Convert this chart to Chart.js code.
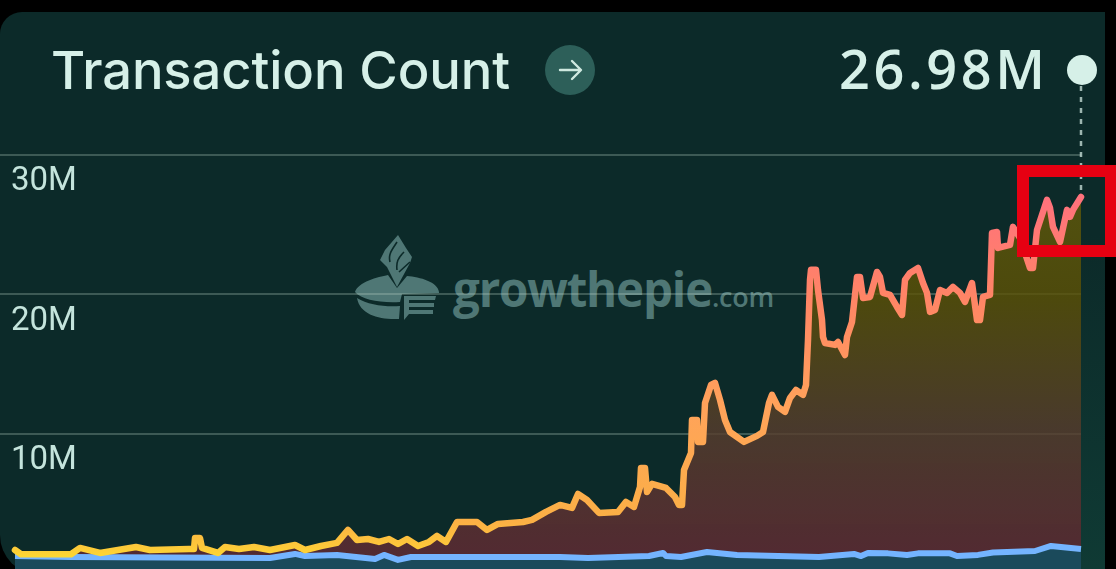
<!DOCTYPE html>
<html>
<head>
<meta charset="utf-8">
<style>
html,body{margin:0;padding:0;width:1116px;height:569px;overflow:hidden;background:#000}
#panel{position:absolute;left:0;top:12px;width:1105px;height:563px;background:#0c2a29;border-radius:22px 0 0 40px}
#strip{position:absolute;left:1081px;top:12px;width:24px;height:557px;background:linear-gradient(#0c2a29 40%,#0f3a34)}
canvas{position:absolute;left:0;top:0}
.t{position:absolute;white-space:nowrap;line-height:1}
#title{left:51px;top:38px;font:500 52.5px Inter,sans-serif;color:#d6f0e8;letter-spacing:-.1px}
#val{left:839px;top:31px;font:600 54px "Open Sans",sans-serif;color:#d6f0e8;letter-spacing:3.6px}
#wm{left:453px;top:256px;font:700 47.5px "Open Sans",sans-serif;color:#4f7775;letter-spacing:-1.2px}
#wm span{font-size:27px;letter-spacing:-.3px;font-weight:600}
svg{position:absolute}
</style>
</head>
<body>
<div id="panel"></div><div id="strip"></div>
<svg style="left:350px;top:230px" width="100" height="100" viewBox="0 0 100 100">
  <path d="M48 5L56 18L62 27L60 33L47 57L37 37L30 30L35 20Z" fill="#4f7775"/>
  <path d="M47 12C42 20 38 24 40 32M54 22C48 28 46 32 47 40M60 32L49 42" fill="none" stroke="#0c2a29" stroke-width="1.6"/>
  <path d="M5 62C8 52 28 47 38 45L47 58L57 46C70 47 88 52 89 62L89 63L52 64L50 72C30 73 12 70 5 62Z" fill="#4f7775"/>
  <path d="M7 68C18 75 35 77 50 76L49 89C30 90 10 85 7 68Z" fill="#4f7775"/>
  <path d="M54 66H86L85 70H59V73H84V77H59V80H83V84H59L54 90Z" fill="#4f7775"/>
</svg>
<div class="t" id="title">Transaction Count</div>
<svg style="left:545px;top:45px" width="50" height="50" viewBox="0 0 50 50">
  <circle cx="25" cy="25" r="25" fill="#2d5f59"/>
  <path d="M15 25h20M27 16l9 9-9 9" fill="none" stroke="#cfe9e0" stroke-width="2.4" stroke-linecap="round" stroke-linejoin="round"/>
</svg>
<div class="t" id="val">26.98M</div>
<div class="t" id="wm">growthepie<span>.com</span></div>
<canvas id="c" width="1116" height="569"></canvas>
<script src="https://cdn.jsdelivr.net/npm/chart.js@4/dist/chart.umd.js"></script>
<script>
const yTicks = [10, 20, 30];
const mainDays = [15,21,71,80,100,118,136,150,189,194,195,200,202,218,225,239,254,270,295,305,321,337,348,357,368,379,389,398,407,418,429,437,446,457,477,487,498,523,532,546,560,572,578,587,599,618,626,634,640,641,645,647,652,666,675,679,682,684,691,692,697,698,703,705,711,715,720,725,730,744,757,763,769,772,778,785,790,796,803,806,808,810,811,816,818,822,823,825,835,838,845,847,852,857,860,863,870,877,880,883,890,897,902,905,910,918,923,927,930,935,940,947,953,960,965,972,977,980,983,990,992,997,998,1010,1013,1020,1030,1033,1037,1047,1050,1053,1060,1067,1070,1073,1081];
const mainValues = [1.68,1.38,1.38,1.83,1.47,1.68,1.90,1.68,1.76,1.76,2.54,2.54,1.83,1.47,1.90,1.76,1.90,1.68,2.04,1.68,1.97,2.19,3.12,2.40,2.47,2.26,2.47,2.11,2.47,1.97,2.26,2.69,2.26,3.69,3.69,3.12,3.55,3.69,3.84,4.41,4.91,4.70,5.70,5.27,4.34,4.41,5.13,4.77,6.20,7.56,7.56,5.84,6.42,6.13,5.48,4.91,4.91,7.42,8.64,11.00,11.00,9.43,9.43,12.22,13.51,13.66,12.44,11.00,10.14,9.43,9.86,10.14,12.22,12.80,11.94,11.58,12.58,13.15,12.80,13.51,16.74,21.04,21.76,21.76,20.32,18.17,16.95,16.52,16.38,16.59,15.66,16.95,18.03,21.25,21.25,19.75,19.82,21.61,21.25,20.11,19.96,19.10,18.53,21.04,21.54,21.90,20.82,20.11,18.75,18.89,20.32,20.11,20.54,20.11,19.46,20.82,18.17,18.17,19.82,19.96,24.41,24.48,23.33,23.55,24.84,24.05,21.90,21.90,24.62,26.78,26.20,24.84,23.76,26.06,25.56,26.06,26.98];
const baseDays = [15,70,270,295,305,337,375,384,398,411,500,560,588,649,663,666,681,707,737,819,854,861,868,888,907,918,950,957,978,993,1035,1051,1081];
const baseValues = [1.25,1.18,1.11,1.40,1.25,1.33,1.04,1.33,0.97,1.18,1.18,1.18,1.11,1.25,1.47,1.25,1.18,1.54,1.33,1.18,1.40,1.25,1.47,1.44,1.33,1.44,1.44,1.25,1.33,1.50,1.61,1.97,1.76];
const toPoints = (xs, ys) => xs.map((x, i) => ({x, y: ys[i]}));

function vGrad(chart, stops, fallback) {
  const s = chart.scales.y;
  if (!s || !chart.chartArea) return fallback;
  const top = s.getPixelForValue(28), bottom = s.getPixelForValue(1);
  if (!isFinite(top) || !isFinite(bottom)) return fallback;
  const g = chart.ctx.createLinearGradient(0, top, 0, bottom);
  stops.forEach(([p, c]) => g.addColorStop(p, c));
  return g;
}
const lineStops = [[0,'#ff6f7f'],[.3,'#ff8466'],[.6,'#ffa35a'],[.9,'#fbb045'],[.965,'#fdc83a'],[1,'#fddc30']];
const fillStops = [[0,'rgba(100,92,10,.8)'],[.3,'rgba(94,82,5,.8)'],[.65,'rgba(89,62,45,.8)'],[1,'rgba(96,42,52,.85)']];

const overlay = {
  id: 'overlay',
  afterDraw(chart) {
    const {ctx, scales: {x, y}} = chart;
    const px = x.getPixelForValue(mainDays[mainDays.length - 1]);
    const py = y.getPixelForValue(mainValues[mainValues.length - 1]);
    ctx.save();
    ctx.strokeStyle = 'rgba(205,230,222,.75)';
    ctx.lineWidth = 2.5;
    ctx.setLineDash([5, 6]);
    ctx.beginPath(); ctx.moveTo(px, 86); ctx.lineTo(px, py - 3); ctx.stroke();
    ctx.setLineDash([]);
    ctx.fillStyle = '#d6f0e8';
    ctx.beginPath(); ctx.arc(px + 1, 70, 15, 0, Math.PI * 2); ctx.fill();
    ctx.strokeStyle = '#e60012';
    ctx.lineWidth = 12;
    ctx.strokeRect(1023, 171, 88, 80);
    ctx.restore();
  }
};

new Chart(document.getElementById('c'), {
  type: 'line',
  data: {datasets: [
    {label: 'Transaction Count', data: toPoints(mainDays, mainValues), fill: '+1',
     backgroundColor: c => vGrad(c.chart, fillStops, '#4e3a2a'), borderColor: c => vGrad(c.chart, lineStops, '#ffa35a'),
     borderWidth: 6.5, borderJoinStyle: 'round', borderCapStyle: 'round', pointRadius: 0, tension: 0, clip: false},
    {label: 'Base', data: toPoints(baseDays, baseValues), fill: 'start',
     backgroundColor: '#1b4a5b', borderColor: '#74b4ff',
     borderWidth: 6, borderJoinStyle: 'round', borderCapStyle: 'butt', pointRadius: 0, tension: 0, clip: false}
  ]},
  options: {
    responsive: false, animation: false,
    layout: {padding: {top: 127, right: 35, left: 0, bottom: 0}},
    plugins: {legend: {display: false}, tooltip: {enabled: false}, filler: {drawTime: 'beforeDatasetsDraw'}},
    scales: {
      x: {type: 'linear', display: false, min: 0, max: 1081},
      y: {min: 0.32, max: 32,
        afterBuildTicks: s => { s.ticks = yTicks.map(value => ({value})); },
        afterFit: s => { s.width = 0; s.paddingTop = 0; s.paddingBottom = 0; },
        border: {display: false},
        grid: {color: 'rgba(190,215,200,.28)', lineWidth: 2, drawTicks: false},
        ticks: {mirror: true, padding: 11, labelOffset: 27, color: '#c4e4dc', autoSkip: false,
          font: {family: 'Roboto', size: 33}, callback: v => v + 'M'}
      }
    }
  },
  plugins: [overlay]
});
</script>
</body>
</html>
